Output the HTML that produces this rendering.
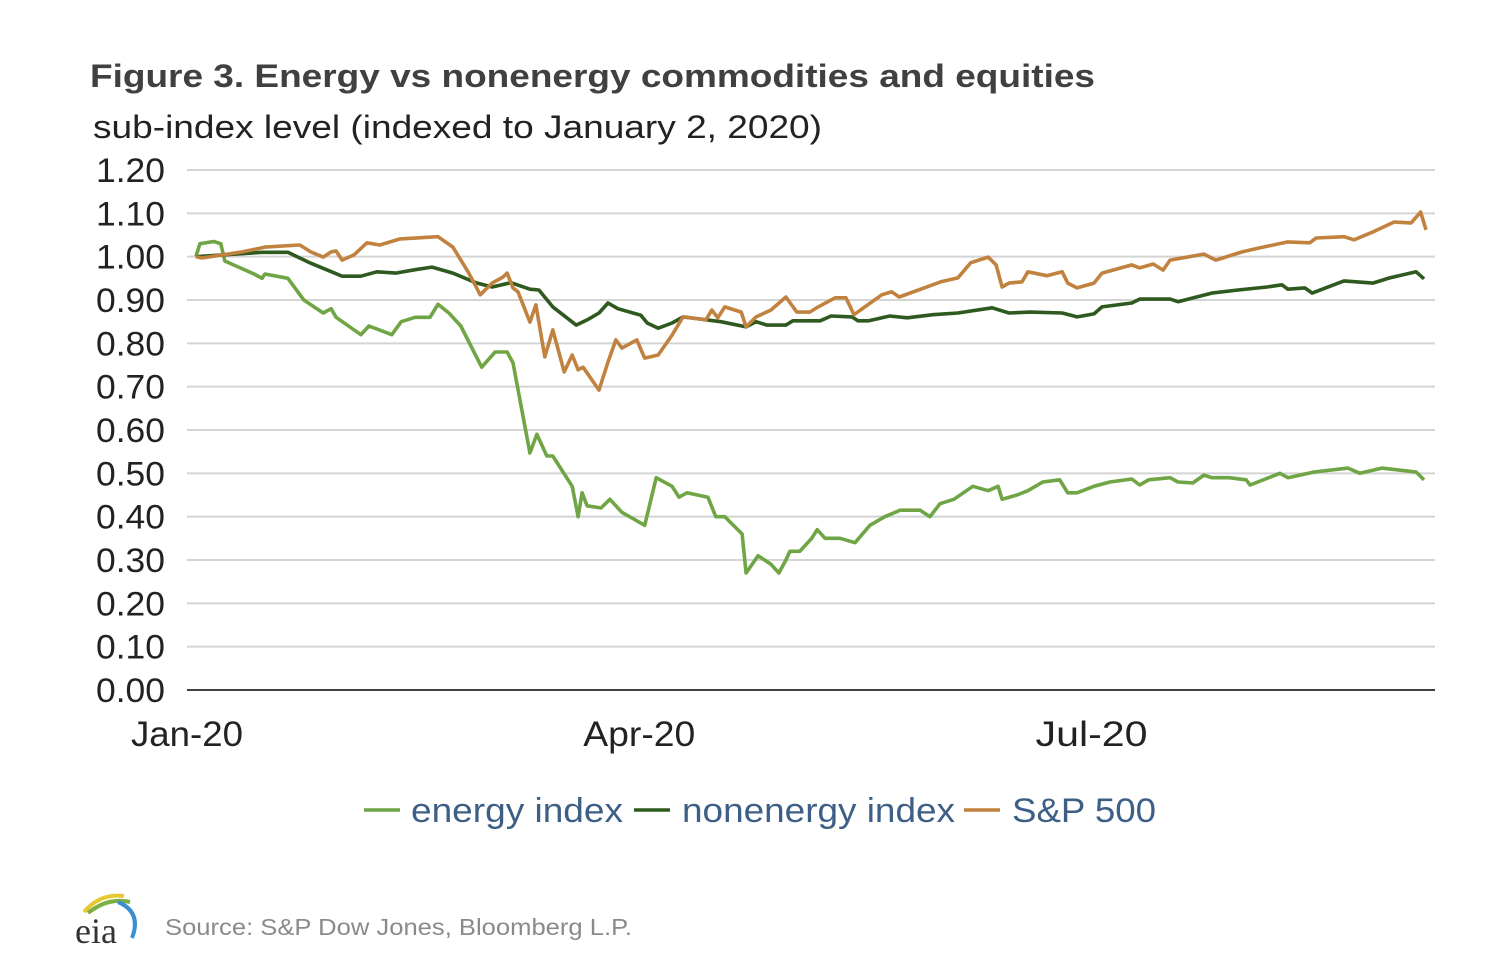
<!DOCTYPE html>
<html><head><meta charset="utf-8"><style>
html,body{margin:0;padding:0;background:#fff;}
svg{display:block;font-family:"Liberation Sans",Arial,sans-serif;}
</style></head><body>
<svg id="chart" width="1508" height="970" viewBox="0 0 1508 970">
<text x="90" y="87" font-size="32" font-weight="bold" fill="#404040" textLength="1005" lengthAdjust="spacingAndGlyphs">Figure 3. Energy vs nonenergy commodities and equities</text>
<text x="93" y="138" font-size="32" fill="#222" textLength="729" lengthAdjust="spacingAndGlyphs">sub-index level (indexed to January 2, 2020)</text>
<g id="grid"></g>
<g id="yticks"></g>
<g id="xticks"></g>
<g id="series"></g>
<g>
<line x1="364" y1="810" x2="400" y2="810" stroke="#6fa545" stroke-width="3.5"/>
<text x="411" y="822" font-size="34" fill="#3d5f86" textLength="212" lengthAdjust="spacingAndGlyphs">energy index</text>
<line x1="634" y1="810" x2="670" y2="810" stroke="#2e5a1f" stroke-width="3.5"/>
<text x="682" y="822" font-size="34" fill="#3d5f86" textLength="273" lengthAdjust="spacingAndGlyphs">nonenergy index</text>
<line x1="964" y1="810" x2="1000" y2="810" stroke="#c2823f" stroke-width="3.5"/>
<text x="1012" y="822" font-size="34" fill="#3d5f86" textLength="144" lengthAdjust="spacingAndGlyphs">S&amp;P 500</text>
</g>
<g>
<path d="M84 912 Q100 893 124 896" stroke="#e8c832" stroke-width="4" fill="none"/>
<path d="M88 913 Q108 897 130 902" stroke="#7bb040" stroke-width="4" fill="none"/>
<path d="M118 902 Q142 912 132 938" stroke="#3a8fd0" stroke-width="4" fill="none"/>
<text x="75" y="943" font-size="36" font-family="Liberation Serif,serif" fill="#333">eia</text>
</g>
<text x="165" y="935" font-size="23" fill="#8a8a8a" textLength="467" lengthAdjust="spacingAndGlyphs">Source: S&amp;P Dow Jones, Bloomberg L.P.</text>
</svg>
<script>
const yTicks=[0,0.1,0.2,0.3,0.4,0.5,0.6,0.7,0.8,0.9,1.0,1.1,1.2];
const xTickLabels=["Jan-20","Apr-20","Jul-20"];
const xTickDays=[0,91,182];
const energyDays=[1.8,2.6,5.4,6.8,7.6,13.5,15.1,15.7,20.3,23.5,27.4,29.0,30.0,35.0,36.6,41.2,43.1,45.9,48.9,50.5,52.7,55.1,59.3,62.0,64.4,65.6,69.0,70.4,72.4,73.6,77.5,78.7,79.5,80.5,83.3,85.1,87.5,92.1,94.4,97.6,99.0,100.6,104.8,106.4,108.2,111.7,112.5,114.9,117.5,119.1,120.5,121.3,123.3,125.7,126.8,128.4,131.4,134.4,137.4,140.4,143.5,147.5,149.5,151.5,154.3,158.1,161.2,163.2,164.0,167.0,169.2,172.2,175.6,177.2,179.1,182.5,185.7,190.1,191.7,193.5,197.8,199.4,202.4,204.6,206.2,209.7,213.1,213.9,219.9,221.5,226.8,233.6,236.0,240.4,247.3,248.9];
const energyVals=[1.00,1.03,1.035,1.03,0.99,0.96,0.95,0.96,0.95,0.90,0.87,0.88,0.86,0.82,0.84,0.82,0.85,0.86,0.86,0.89,0.87,0.84,0.745,0.78,0.78,0.755,0.547,0.59,0.54,0.54,0.47,0.40,0.455,0.425,0.42,0.44,0.41,0.38,0.49,0.47,0.445,0.455,0.445,0.40,0.40,0.36,0.27,0.31,0.29,0.27,0.30,0.32,0.32,0.35,0.37,0.35,0.35,0.34,0.38,0.40,0.415,0.415,0.40,0.43,0.44,0.47,0.46,0.47,0.44,0.45,0.46,0.48,0.485,0.455,0.455,0.47,0.48,0.487,0.473,0.485,0.49,0.48,0.478,0.496,0.49,0.49,0.485,0.473,0.50,0.49,0.503,0.512,0.50,0.512,0.503,0.485];
const nonenergyDays=[1.8,15.1,20.3,24.9,31.2,35.0,38.2,42.0,45.9,49.3,53.5,58.1,61.4,65.2,69.0,70.8,73.6,78.3,80.5,82.9,84.7,86.7,91.3,92.6,94.8,97.6,99.8,107.4,112.5,114.5,116.7,120.5,121.9,127.4,129.6,133.8,135.0,137.2,141.4,144.9,150.1,155.1,162.0,165.4,169.6,176.1,179.1,182.5,184.1,190.1,191.7,197.8,199.4,206.2,211.5,217.3,220.3,221.5,224.9,226.4,232.8,235.2,238.6,242.0,247.3,248.9];
const nonenergyVals=[1.00,1.01,1.01,0.985,0.955,0.955,0.965,0.962,0.97,0.976,0.962,0.94,0.93,0.94,0.925,0.923,0.884,0.842,0.854,0.87,0.893,0.88,0.865,0.847,0.835,0.847,0.861,0.85,0.838,0.85,0.842,0.842,0.852,0.852,0.863,0.861,0.852,0.852,0.863,0.859,0.866,0.87,0.882,0.87,0.872,0.87,0.861,0.868,0.884,0.893,0.902,0.902,0.896,0.916,0.923,0.93,0.935,0.925,0.928,0.916,0.944,0.942,0.939,0.951,0.965,0.949];
const spDays=[1.8,3.0,7.2,11.1,15.7,22.7,24.9,27.4,29.0,30.0,31.2,33.6,36.2,38.8,42.9,50.5,53.5,56.7,59.0,61.4,63.6,64.4,65.6,66.6,69.0,70.2,72.0,73.6,75.9,77.5,78.7,79.7,82.9,84.7,86.3,87.5,90.5,92.1,94.8,97.6,99.8,104.4,105.6,106.8,108.2,111.5,112.5,114.5,117.5,120.5,122.7,125.3,127.0,130.4,132.6,134.2,139.8,141.8,143.3,148.3,151.7,155.1,157.7,161.2,162.8,164.0,165.4,168.0,169.2,173.0,176.1,177.2,179.1,182.5,184.1,190.1,191.7,194.4,196.4,197.8,204.6,207.0,212.3,215.7,221.5,225.9,227.2,232.8,234.8,238.6,242.9,246.3,248.2,249.3];
const spVals=[1.00,0.997,1.004,1.011,1.022,1.027,1.011,0.999,1.011,1.013,0.992,1.004,1.032,1.027,1.041,1.046,1.022,0.962,0.912,0.939,0.953,0.962,0.928,0.919,0.849,0.889,0.769,0.831,0.734,0.773,0.739,0.745,0.692,0.757,0.808,0.789,0.808,0.766,0.773,0.819,0.861,0.854,0.877,0.859,0.884,0.872,0.838,0.861,0.877,0.907,0.872,0.872,0.884,0.905,0.905,0.866,0.912,0.919,0.907,0.928,0.942,0.951,0.986,0.999,0.981,0.930,0.939,0.942,0.965,0.956,0.965,0.939,0.928,0.939,0.962,0.981,0.974,0.983,0.969,0.992,1.006,0.992,1.011,1.020,1.034,1.032,1.043,1.046,1.039,1.057,1.080,1.078,1.103,1.062];

const NS='http://www.w3.org/2000/svg';
const X0=187,X1=1435,Y0=690,Y1=170;
function xs(d){return X0+d*4.97;}
function ys(v){return Y0-(v/1.2)*(Y0-Y1);}
function mk(tag,attrs,parent){const e=document.createElementNS(NS,tag);for(const k in attrs)e.setAttribute(k,attrs[k]);parent.appendChild(e);return e;}
const grid=document.getElementById('grid'),yt=document.getElementById('yticks'),xt=document.getElementById('xticks'),ser=document.getElementById('series');
yTicks.forEach(v=>{
  const l=mk('line',{x1:X0,x2:X1,y1:ys(v),y2:ys(v),stroke:v===0?'#404040':'#d4d4d4','stroke-width':2},grid);
  
  
  const t=mk('text',{x:165,y:ys(v)+12,'text-anchor':'end','font-size':34,fill:'#222',textLength:69,lengthAdjust:'spacingAndGlyphs'},yt);
  t.textContent=v.toFixed(2);
  
  
});
xTickLabels.forEach((s,i)=>{
  const t=mk('text',{x:xs(xTickDays[i]),y:746,'text-anchor':'middle','font-size':35,fill:'#222',textLength:112,lengthAdjust:'spacingAndGlyphs'},xt);
  t.textContent=s;
  
  
});
function line(days,vals,color,name){
  const p=mk('polyline',{points:days.map((d,i)=>xs(d).toFixed(1)+','+ys(vals[i]).toFixed(1)).join(' '),fill:'none',stroke:color,'stroke-width':3.6,'stroke-linejoin':'round'},ser);
  
  
}
line(energyDays,energyVals,'#6fa545','energy-index-line');
line(nonenergyDays,nonenergyVals,'#2e5a1f','nonenergy-index-line');
line(spDays,spVals,'#c2823f','sp500-line');
</script>
</body></html>
